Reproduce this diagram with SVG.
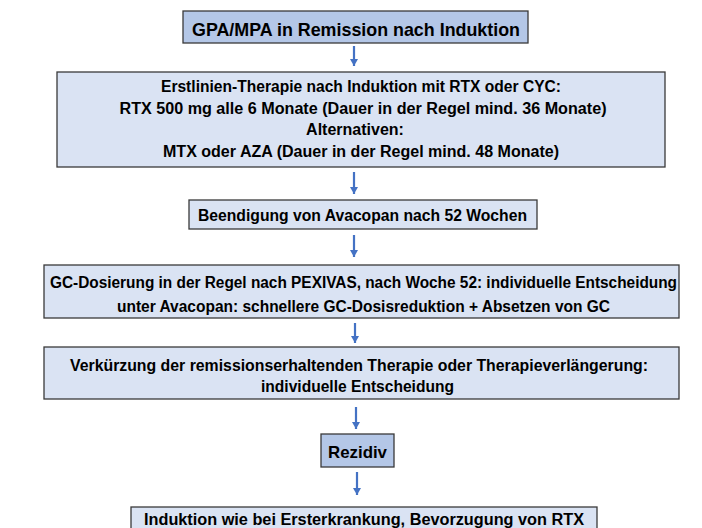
<svg xmlns="http://www.w3.org/2000/svg" width="702" height="528" viewBox="0 0 702 528">
<defs>
<style>
.box{stroke:#3a3a3a;stroke-width:1.3}
.dark{fill:#b4c7e7}
.light{fill:#dae3f3}
text{font-family:"Liberation Sans",Arial,sans-serif;font-weight:bold;fill:#000;text-anchor:middle;font-size:16px}
.big{font-size:17.7px}
.arrow{stroke:#4472c4;stroke-width:2.2;fill:none;marker-end:url(#ah)}
</style>
<marker id="ah" markerUnits="userSpaceOnUse" markerWidth="9" markerHeight="9" refX="7" refY="4" orient="auto">
<path d="M0,0 L7,4 L0,8 z" fill="#4472c4"/>
</marker>
</defs>
<rect width="702" height="528" fill="#fff"/>
<g id="connectors">
<line class="arrow" x1="354" y1="46" x2="354" y2="66"/>
<line class="arrow" x1="354" y1="172" x2="354" y2="194"/>
<line class="arrow" x1="354" y1="235" x2="354" y2="257"/>
<line class="arrow" x1="355" y1="323" x2="355" y2="343"/>
<line class="arrow" x1="356" y1="407" x2="356" y2="429"/>
<line class="arrow" x1="357" y1="472" x2="357" y2="495"/>
</g>
<g id="n1">
<rect class="box dark" x="183" y="11" width="345" height="32"/>
<text class="big" x="356" y="35.5" textLength="328" lengthAdjust="spacingAndGlyphs">GPA/MPA in Remission nach Induktion</text>
</g>
<g id="n2">
<rect class="box light" x="57" y="72" width="608" height="95"/>
<text x="361" y="92" textLength="400" lengthAdjust="spacingAndGlyphs">Erstlinien-Therapie nach Induktion mit RTX oder CYC:</text>
<text x="363" y="113.5" textLength="487" lengthAdjust="spacingAndGlyphs">RTX 500 mg alle 6 Monate (Dauer in der Regel mind. 36 Monate)</text>
<text x="355" y="135">Alternativen:</text>
<text x="361" y="156.5" textLength="396" lengthAdjust="spacingAndGlyphs">MTX oder AZA (Dauer in der Regel mind. 48 Monate)</text>
</g>
<g id="n3">
<rect class="box light" x="189" y="200" width="348" height="29"/>
<text x="362.5" y="220.5" textLength="329" lengthAdjust="spacingAndGlyphs">Beendigung von Avacopan nach 52 Wochen</text>
</g>
<g id="n4">
<rect class="box light" x="44" y="265" width="635" height="53"/>
<text x="363.5" y="288" textLength="627" lengthAdjust="spacingAndGlyphs">GC-Dosierung in der Regel nach PEXIVAS, nach Woche 52: individuelle Entscheidung</text>
<text x="363.5" y="312" textLength="493" lengthAdjust="spacingAndGlyphs">unter Avacopan: schnellere GC-Dosisreduktion + Absetzen von GC</text>
</g>
<g id="n5">
<rect class="box light" x="44" y="347" width="635" height="52"/>
<text x="359" y="371" textLength="578" lengthAdjust="spacingAndGlyphs">Verkürzung der remissionserhaltenden Therapie oder Therapieverlängerung:</text>
<text x="357.5" y="392" textLength="193" lengthAdjust="spacingAndGlyphs">individuelle Entscheidung</text>
</g>
<g id="n6">
<rect class="box dark" x="321" y="434" width="73" height="33"/>
<text x="357.5" y="457.5" style="font-size:17px" textLength="59" lengthAdjust="spacingAndGlyphs">Rezidiv</text>
</g>
<g id="n7">
<rect class="box light" x="131" y="507" width="466" height="30"/>
<text x="364" y="525" textLength="440" lengthAdjust="spacingAndGlyphs">Induktion wie bei Ersterkrankung, Bevorzugung von RTX</text>
</g>
</svg>
